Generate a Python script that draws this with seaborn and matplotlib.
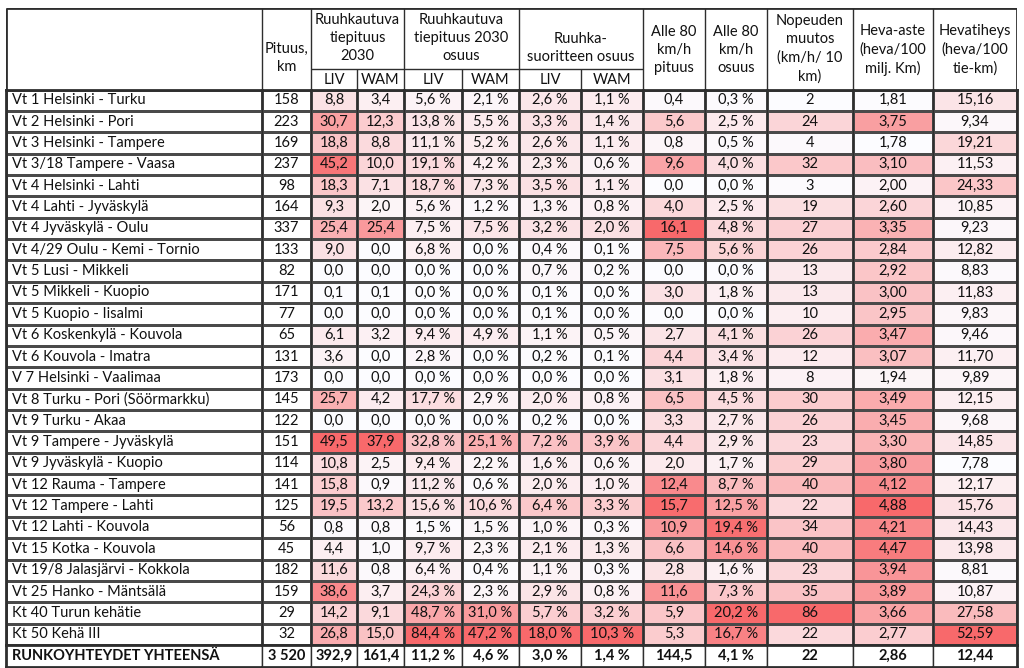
import numpy as np
import pandas as pd
import seaborn as sns
import matplotlib.pyplot as plt
from matplotlib.colors import LinearSegmentedColormap, ListedColormap

sns.set_theme(style="white")
plt.rcParams['font.family'] = ['Lato', 'DejaVu Sans']

names = [
    "Vt 1 Helsinki - Turku", "Vt 2 Helsinki - Pori", "Vt 3 Helsinki - Tampere",
    "Vt 3/18 Tampere - Vaasa", "Vt 4 Helsinki - Lahti", "Vt 4 Lahti - Jyväskylä",
    "Vt 4 Jyväskylä - Oulu", "Vt 4/29 Oulu - Kemi - Tornio", "Vt 5 Lusi - Mikkeli",
    "Vt 5 Mikkeli - Kuopio", "Vt 5 Kuopio - Iisalmi", "Vt 6 Koskenkylä - Kouvola",
    "Vt 6 Kouvola - Imatra", "V 7 Helsinki - Vaalimaa", "Vt 8 Turku - Pori (Söörmarkku)",
    "Vt 9 Turku - Akaa", "Vt 9 Tampere - Jyväskylä", "Vt 9 Jyväskylä - Kuopio",
    "Vt 12 Rauma - Tampere", "Vt 12 Tampere - Lahti", "Vt 12 Lahti - Kouvola",
    "Vt 15 Kotka - Kouvola", "Vt 19/8 Jalasjärvi - Kokkola", "Vt 25 Hanko - Mäntsälä",
    "Kt 40 Turun kehätie", "Kt 50 Kehä III",
]
pituus = [158, 223, 169, 237, 98, 164, 337, 133, 82, 171, 77, 65, 131, 173, 145, 122,
          151, 114, 141, 125, 56, 45, 182, 159, 29, 32]
liv_km = [8.8, 30.7, 18.8, 45.2, 18.3, 9.3, 25.4, 9.0, 0.0, 0.1, 0.0, 6.1, 3.6, 0.0, 25.7,
          0.0, 49.5, 10.8, 15.8, 19.5, 0.8, 4.4, 11.6, 38.6, 14.2, 26.8]
wam_km = [3.4, 12.3, 8.8, 10.0, 7.1, 2.0, 25.4, 0.0, 0.0, 0.1, 0.0, 3.2, 0.0, 0.0, 4.2,
          0.0, 37.9, 2.5, 0.9, 13.2, 0.8, 1.0, 0.8, 3.7, 9.1, 15.0]
liv_os = [5.6, 13.8, 11.1, 19.1, 18.7, 5.6, 7.5, 6.8, 0.0, 0.0, 0.0, 9.4, 2.8, 0.0, 17.7,
          0.0, 32.8, 9.4, 11.2, 15.6, 1.5, 9.7, 6.4, 24.3, 48.7, 84.4]
wam_os = [2.1, 5.5, 5.2, 4.2, 7.3, 1.2, 7.5, 0.0, 0.0, 0.0, 0.0, 4.9, 0.0, 0.0, 2.9,
          0.0, 25.1, 2.2, 0.6, 10.6, 1.5, 2.3, 0.4, 2.3, 31.0, 47.2]
liv_su = [2.6, 3.3, 2.6, 2.3, 3.5, 1.3, 3.2, 0.4, 0.7, 0.1, 0.1, 1.1, 0.2, 0.0, 2.0,
          0.2, 7.2, 1.6, 2.0, 6.4, 1.0, 2.1, 1.1, 2.9, 5.7, 18.0]
wam_su = [1.1, 1.4, 1.1, 0.6, 1.1, 0.8, 2.0, 0.1, 0.2, 0.0, 0.0, 0.5, 0.1, 0.0, 0.8,
          0.0, 3.9, 0.6, 1.0, 3.3, 0.3, 1.3, 0.3, 0.8, 3.2, 10.3]
a80_km = [0.4, 5.6, 0.8, 9.6, 0.0, 4.0, 16.1, 7.5, 0.0, 3.0, 0.0, 2.7, 4.4, 3.1, 6.5,
          3.3, 4.4, 2.0, 12.4, 15.7, 10.9, 6.6, 2.8, 11.6, 5.9, 5.3]
a80_os = [0.3, 2.5, 0.5, 4.0, 0.0, 2.5, 4.8, 5.6, 0.0, 1.8, 0.0, 4.1, 3.4, 1.8, 4.5,
          2.7, 2.9, 1.7, 8.7, 12.5, 19.4, 14.6, 1.6, 7.3, 20.2, 16.7]
nopeus = [2, 24, 4, 32, 3, 19, 27, 26, 13, 13, 10, 26, 12, 8, 30, 26, 23, 29, 40, 22,
          34, 40, 23, 35, 86, 22]
heva = [1.81, 3.75, 1.78, 3.10, 2.00, 2.60, 3.35, 2.84, 2.92, 3.00, 2.95, 3.47, 3.07,
        1.94, 3.49, 3.45, 3.30, 3.80, 4.12, 4.88, 4.21, 4.47, 3.94, 3.89, 3.66, 2.77]
hevatiheys = [15.16, 9.34, 19.21, 11.53, 24.33, 10.85, 9.23, 12.82, 8.83, 11.83, 9.83,
              9.46, 11.70, 9.89, 12.15, 9.68, 14.85, 7.78, 12.17, 15.76, 14.43, 13.98,
              8.81, 10.87, 27.58, 52.59]
total_row = ["RUNKOYHTEYDET YHTEENSÄ", "3 520", "392,9", "161,4", "11,2 %", "4,6 %",
             "3,0 %", "1,4 %", "144,5", "4,1 %", "22", "2,86", "12,44"]


def fi(v, dec, pct=False):
    s = f"{v:.{dec}f}".replace(".", ",")
    return s + " %" if pct else s


# (values, labels, coloured?)
columns = [
    (np.zeros(len(names)), names, False),
    (pituus, [str(v) for v in pituus], False),
    (liv_km, [fi(v, 1) for v in liv_km], True),
    (wam_km, [fi(v, 1) for v in wam_km], True),
    (liv_os, [fi(v, 1, True) for v in liv_os], True),
    (wam_os, [fi(v, 1, True) for v in wam_os], True),
    (liv_su, [fi(v, 1, True) for v in liv_su], True),
    (wam_su, [fi(v, 1, True) for v in wam_su], True),
    (a80_km, [fi(v, 1) for v in a80_km], True),
    (a80_os, [fi(v, 1, True) for v in a80_os], True),
    (nopeus, [str(v) for v in nopeus], True),
    (heva, [fi(v, 2) for v in heva], True),
    (hevatiheys, [fi(v, 2) for v in hevatiheys], True),
]

# layout in pixels
W, H = 1024, 668
edges = [6, 262, 311, 357, 404, 462, 519, 581, 643, 705, 767, 853, 933, 1017]
top, head_split, body_top, total_top, bottom = 8, 68.5, 89.5, 645, 667
line_col = "#2e2e2e"
txt_col = "#111111"
fs = 10.5

red_scale = LinearSegmentedColormap.from_list("excel_red", ["#FCFCFF", "#F8696B"])
white = ListedColormap(["white"])

fig = plt.figure(figsize=(W / 100, H / 100), dpi=100)
gs = fig.add_gridspec(2, 13, left=edges[0] / W, right=edges[-1] / W,
                      top=1 - body_top / H, bottom=1 - bottom / H,
                      width_ratios=np.diff(edges),
                      height_ratios=[total_top - body_top, bottom - total_top],
                      wspace=0, hspace=0)


def frame(ax, j, last_row=False):
    for s in ax.spines.values():
        s.set_visible(True)
        s.set_color(line_col)
        s.set_linewidth(1.0)
    ax.spines["top"].set_linewidth(2.0)
    if last_row:
        ax.spines["bottom"].set_linewidth(2.0)
    if j == 0:
        ax.spines["left"].set_linewidth(2.0)
        for t in ax.texts:
            t.set_ha("left")
            t.set_x(0.025)
    if j == 12:
        ax.spines["right"].set_linewidth(2.0)


for j, (vals, labels, coloured) in enumerate(columns):
    ax = fig.add_subplot(gs[0, j])
    df = pd.DataFrame({"v": np.asarray(vals, dtype=float)})
    kw = dict(cmap=red_scale, vmin=df.v.min(), vmax=df.v.max()) if coloured else dict(cmap=white)
    sns.heatmap(df, ax=ax, annot=np.array(labels).reshape(-1, 1), fmt="", cbar=False,
                linewidths=0.8, linecolor="#4a4a4a", xticklabels=False, yticklabels=False,
                annot_kws={"fontsize": fs, "color": txt_col}, **kw)
    frame(ax, j)

    axt = fig.add_subplot(gs[1, j])
    sns.heatmap(pd.DataFrame({"v": [0.0]}), ax=axt, cmap=white, cbar=False,
                annot=np.array([[total_row[j]]]), fmt="",
                xticklabels=False, yticklabels=False,
                annot_kws={"fontsize": fs, "color": txt_col, "weight": "bold"})
    frame(axt, j, last_row=True)

# header block
hx = fig.add_axes([edges[0] / W, 1 - body_top / H, (edges[-1] - edges[0]) / W,
                   (body_top - top) / H])
hx.set_xlim(edges[0], edges[-1])
hx.set_ylim(body_top, top)
hx.axis("off")
lw = dict(color=line_col, linewidth=1.0)
hx.hlines(top, edges[0], edges[-1], color=line_col, linewidth=2.0)
hx.vlines([edges[0], edges[-1]], top, body_top, color=line_col, linewidth=2.0)
hx.vlines([edges[1], edges[2], edges[4], edges[6], edges[8], edges[9], edges[10],
           edges[11], edges[12]], top, body_top, **lw)
hx.vlines([edges[3], edges[5], edges[7]], head_split, body_top, **lw)
hx.hlines(head_split, edges[2], edges[8], **lw)

ls = 1.38
full_headers = {1: ("Pituus,\nkm", 58), 8: ("Alle 80\nkm/h\npituus", 50),
                9: ("Alle 80\nkm/h\nosuus", 50),
                10: ("Nopeuden\nmuutos\n(km/h/ 10\nkm)", 49),
                11: ("Heva-aste\n(heva/100\nmilj. Km)", 50),
                12: ("Hevatiheys\n(heva/100\ntie-km)", 50)}
group_headers = {2: "Ruuhkautuva\ntiepituus\n2030", 4: "Ruuhkautuva\ntiepituus 2030\nosuus",
                 6: "Ruuhka-\nsuoritteen osuus"}
for j, (txt, yc) in full_headers.items():
    hx.text((edges[j] + edges[j + 1]) / 2, yc, txt, ha="center",
            va="center", fontsize=fs, color=txt_col, linespacing=ls)
for j, txt in group_headers.items():
    yc = 38 if txt.count("\n") == 2 else 48
    hx.text((edges[j] + edges[j + 2]) / 2, yc, txt, ha="center",
            va="center", fontsize=fs, color=txt_col, linespacing=ls)
    for k in (j, j + 1):
        hx.text((edges[k] + edges[k + 1]) / 2, (head_split + body_top) / 2 + 1,
                "LIV" if k == j else "WAM", ha="center", va="center", fontsize=fs,
                color=txt_col)

fig.savefig("out.png", dpi=100, facecolor="white")
